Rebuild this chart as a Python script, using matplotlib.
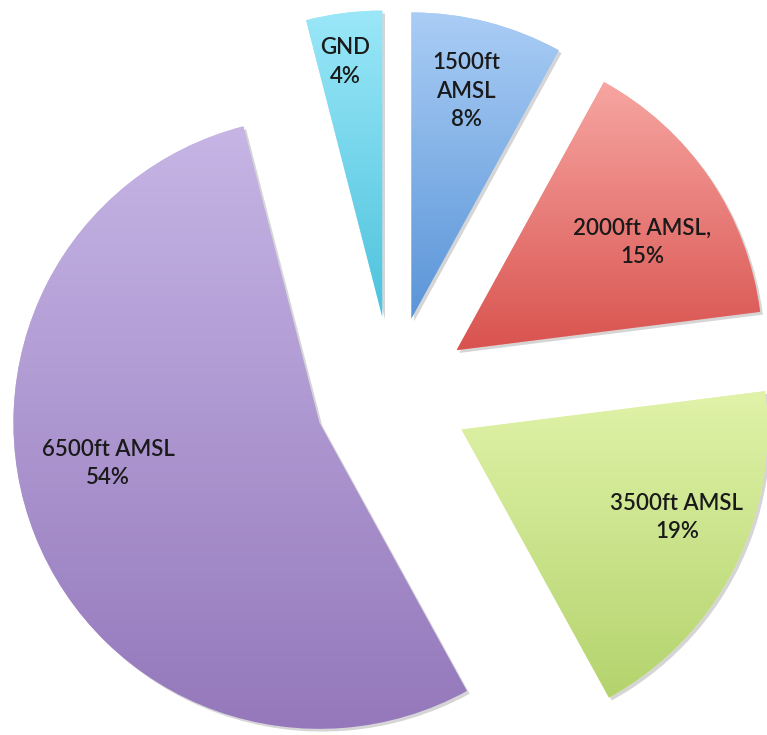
import numpy as np
import matplotlib
matplotlib.use("Agg")
import matplotlib.pyplot as plt
import matplotlib.patheffects as pe
from matplotlib.colors import LinearSegmentedColormap

# data, clockwise from 12 o'clock
labels = ["1500ft\nAMSL\n8%", "2000ft AMSL,\n15%", "3500ft AMSL\n19%",
          "6500ft AMSL\n54%", "GND\n4%"]
shares = [8, 15, 19, 54, 4]

# gradient colours per slice (top, bottom)
top_colors = ["#aacdf5", "#f7a6a2", "#e0f3a9", "#c6b5e5", "#9ae7f8"]
bottom_colors = ["#5a95d8", "#d9534f", "#b4d36d", "#9478bb", "#4dc3dd"]

# label centres (data units, radius = 1)
label_pos = [(0.242, 0.990), (0.817, 0.497), (0.931, -0.402),
             (-0.928, -0.226), (-0.154, 1.085)]

fig = plt.figure(figsize=(7.67, 7.35), dpi=100)
ax = fig.add_axes([0, 0, 1, 1])

wedges, _ = ax.pie(shares, startangle=90, counterclock=False,
                   explode=[0.255] * len(shares), colors=top_colors,
                   wedgeprops=dict(linewidth=0))

grad = np.linspace(0, 1, 256).reshape(-1, 1)
for w, c_top, c_bot in zip(wedges, top_colors, bottom_colors):
    w.set_path_effects([pe.SimplePatchShadow(offset=(2, -2), shadow_rgbFace="#888888", alpha=0.35),
                        pe.Normal()])
    verts = w.get_path().vertices
    x0, y0 = verts.min(axis=0)
    x1, y1 = verts.max(axis=0)
    cmap = LinearSegmentedColormap.from_list("g", [c_top, c_bot])
    im = ax.imshow(grad, cmap=cmap, extent=(x0, x1, y0, y1), origin="upper",
                   aspect="auto", interpolation="bilinear", zorder=w.get_zorder() + 0.1)
    im.set_clip_path(w)

for txt, (x, y) in zip(labels, label_pos):
    ax.text(x, y, txt, ha="center", va="center", fontsize=16, family="Lato",
            fontweight="semibold", color="#1a1a1a", linespacing=1.42, zorder=5)

ax.set_xlim(-1.281, 1.2255)
ax.set_ylim(-1.114, 1.2876)
ax.set_aspect("equal")
ax.axis("off")

fig.savefig("out.png", dpi=100)
